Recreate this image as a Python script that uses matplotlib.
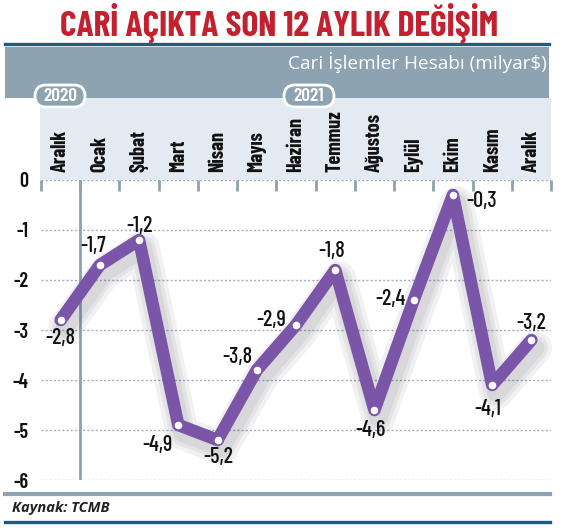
import matplotlib
matplotlib.use("Agg")
import matplotlib.pyplot as plt
import matplotlib.transforms as mtransforms
from matplotlib.patches import Rectangle, FancyBboxPatch
from matplotlib.lines import Line2D

months = ["Aralık", "Ocak", "Şubat", "Mart", "Nisan", "Mayıs", "Haziran",
          "Temmuz", "Ağustos", "Eylül", "Ekim", "Kasım", "Aralık"]
values = [-2.8, -1.7, -1.2, -4.9, -5.2, -3.8, -2.9, -1.8, -4.6, -2.4, -0.3, -4.1, -3.2]
yticks = [0, -1, -2, -3, -4, -5, -6]
years = ["2020", "2021"]

# label offsets in pixels (dx, dy up)
label_off = [(0, -18), (-7, 19), (0, 14), (-21, -20), (1, -17), (-19, 13),
             (-25, 5), (-3, 19), (-4, -20), (-23, 1), (29, -6), (-4, -24), (0, 17)]

W, H = 563, 528
COND = ["Barlow Condensed", "DejaVu Sans"]
purple = "#7b55a8"
band = "#8da3b1"
navy = "#1d5d84"

fig = plt.figure(figsize=(W / 100, H / 100), dpi=100)
fig.patch.set_facecolor("white")


def fx(x):
    return x / W


def fy(y):
    return 1 - y / H


# header decorations
fig.add_artist(Line2D([fx(5), fx(549)], [fy(44), fy(44)], color=navy, lw=2.4,
                      transform=fig.transFigure, zorder=-5))
fig.add_artist(Rectangle((fx(5), fy(98)), fx(549) - fx(5), fy(47) - fy(98),
                         facecolor=band, edgecolor="none", transform=fig.transFigure,
                         zorder=-5))
fig.add_artist(Rectangle((fx(40), fy(180)), fx(551) - fx(40), fy(98) - fy(180),
                         facecolor="#e4eaf1", edgecolor="none", transform=fig.transFigure,
                         zorder=-6))
fig.text(fx(279), fy(36), "CARİ AÇIKTA SON 12 AYLIK DEĞİŞİM", color="#c3212f",
         fontsize=25.5, fontweight="bold", family=COND, ha="center", va="baseline")
fig.text(fx(547), fy(63), "Cari İşlemler Hesabı (milyar$)", color="white",
         fontsize=13.7, family=["Open Sans", "DejaVu Sans"], ha="right", va="center")

# year pills
for label, cx in zip(years, [60, 309]):
    pill = FancyBboxPatch((cx - 25, H - 107), 50, 22,
                          boxstyle="round,pad=0,rounding_size=11",
                          facecolor=band, edgecolor="white", lw=2,
                          transform=mtransforms.IdentityTransform(), zorder=2)
    fig.add_artist(pill)
    fig.text(fx(cx), fy(96), label, color="white", fontsize=14, fontweight=600,
             family=COND, ha="center", va="center", zorder=3)

# footer
fig.add_artist(Line2D([fx(5), fx(550)], [fy(494), fy(494)], color=band, lw=3,
                      transform=fig.transFigure, zorder=-5))
fig.add_artist(Line2D([fx(5), fx(550)], [fy(522), fy(522)], color=navy, lw=2.4,
                      transform=fig.transFigure, zorder=-5))
fig.text(fx(12), fy(508), "Kaynak: TCMB", color="#222222", fontsize=10.5,
         fontweight="bold", style="italic", family=["Open Sans", "DejaVu Sans"],
         ha="left", va="center")

# main plot
ax = fig.add_axes([fx(41), fy(480), fx(551) - fx(41), fy(180) - fy(480)])
ax.set_facecolor("none")
x = list(range(len(values)))
ax.set_xlim(-0.5, len(values) - 0.5)
ax.set_ylim(-6, 0)

for s in ax.spines.values():
    s.set_visible(False)

for t in yticks:
    ax.axhline(t, color="#a3aeb9", lw=1, linestyle=(0, (1.5, 1.5)), zorder=1)
ax.axvline(0.5, color=band, lw=2, zorder=1)

ax.set_yticks(yticks)
ax.set_yticklabels([str(t) for t in yticks], fontsize=14.5, fontweight=600,
                   family=COND, color="#111111")
ax.tick_params(axis="y", length=0, pad=9)

ax.set_xticks(x)
ax.set_xticklabels(months, rotation=90, fontsize=14.5, fontweight="bold",
                   family=COND, color="#111111")
ax.xaxis.tick_top()
ax.tick_params(axis="x", which="major", length=0, pad=6)
ax.set_xticks([i - 0.5 for i in range(len(values) + 1)], minor=True)
ax.tick_params(axis="x", which="minor", direction="in", length=8, width=2,
               color=band, top=True, bottom=False)

# soft shadow
for lw in [24, 18, 13]:
    tr = mtransforms.offset_copy(ax.transData, fig=fig, x=4, y=-8, units="dots")
    ax.plot(x, values, color="#3a3a50", alpha=0.07, lw=lw, transform=tr,
            solid_joinstyle="round", solid_capstyle="round", zorder=2, clip_on=False)

ax.plot(x, values, color=purple, lw=9, solid_joinstyle="round",
        solid_capstyle="round", zorder=3, clip_on=False)
ax.plot(x, values, linestyle="none", marker="o", markersize=6.5,
        markerfacecolor="white", markeredgecolor=purple, markeredgewidth=1,
        zorder=4, clip_on=False)

for xi, v, (dx, dy) in zip(x, values, label_off):
    ax.annotate(f"{v:.1f}".replace(".", ","), (xi, v), xytext=(dx * 0.72, dy * 0.72),
                textcoords="offset points", ha="center", va="center",
                fontsize=16, fontweight=500, family=COND, color="#111111", zorder=5)

fig.savefig("out.png", dpi=100)
